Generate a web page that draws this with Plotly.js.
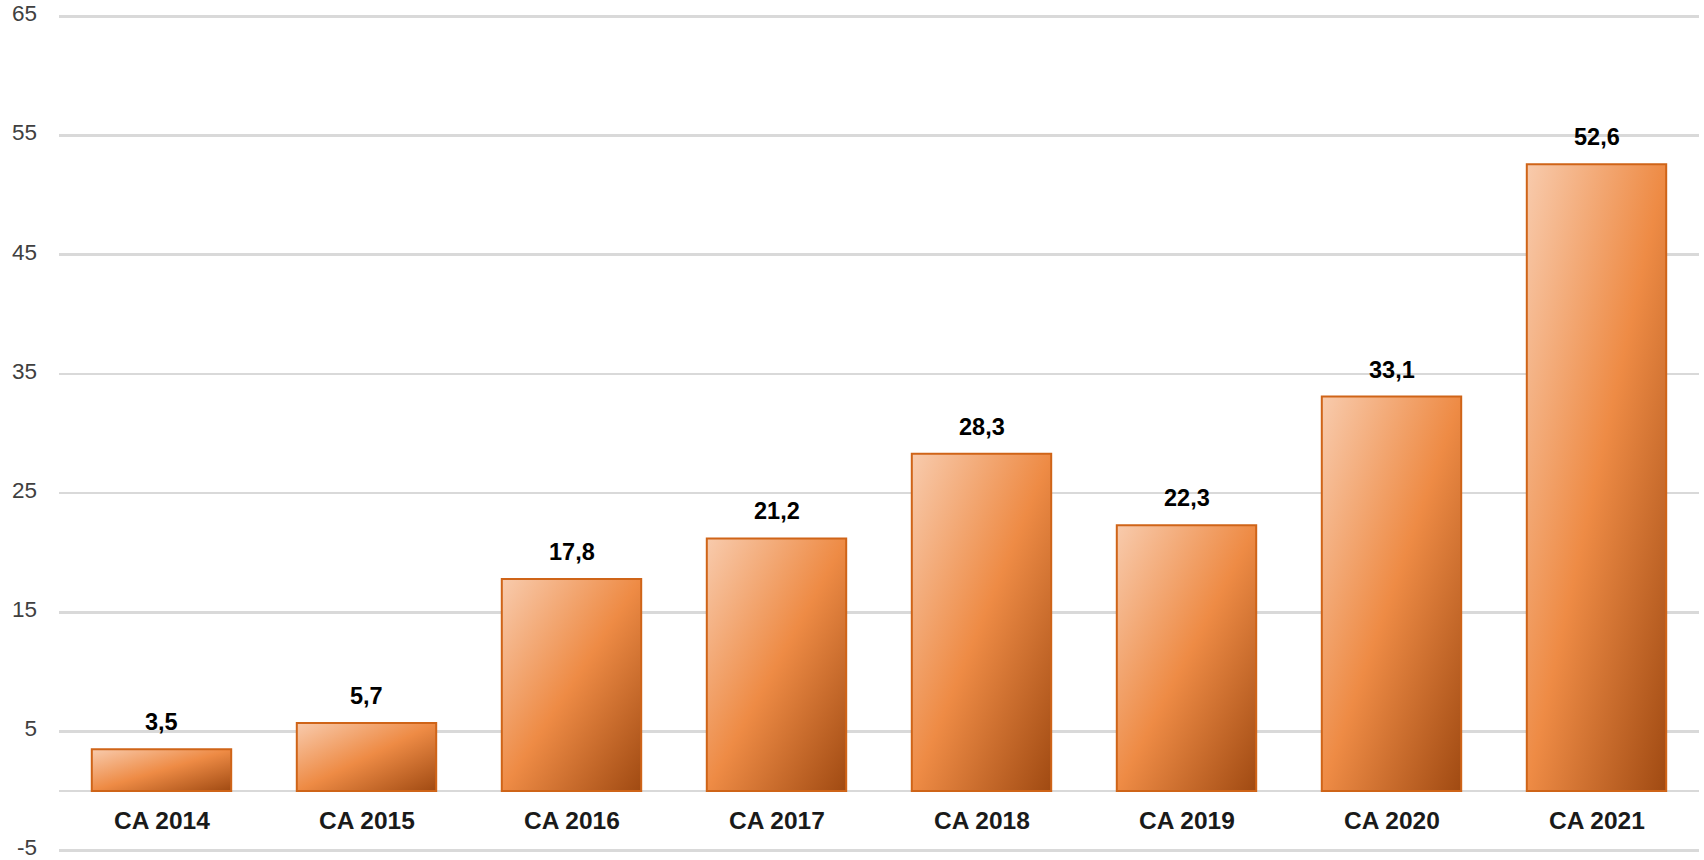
<!DOCTYPE html>
<html>
<head>
<meta charset="utf-8">
<script src="https://cdn.plot.ly/plotly-3.0.1.min.js"></script>
<style>
  html, body { margin: 0; padding: 0; background: #fff; }
  #chart { width: 1704px; height: 860px; }
</style>
</head>
<body>
<div id="chart"></div>
<script>
// chiffre d'affaires par année
const categories = ['CA 2014', 'CA 2015', 'CA 2016', 'CA 2017', 'CA 2018', 'CA 2019', 'CA 2020', 'CA 2021'];
const values = [3.5, 5.7, 17.8, 21.2, 28.3, 22.3, 33.1, 52.6];
const yMin = -5, yMax = 65, yStep = 10;

const fmt = v => v.toFixed(1).replace('.', ',');
const FONT = 'Liberation Sans, Arial, sans-serif';

// tick values with a plain hyphen for the negative one
const tickVals = [];
for (let v = yMin; v <= yMax; v += yStep) tickVals.push(v);
const tickText = tickVals.map(v => String(v));

const bars = {
  type: 'bar',
  x: categories,
  y: values,
  marker: {
    color: '#ed7d31',
    line: {color: '#cf6418', width: 2}
  },
  hoverinfo: 'none'
};

// value labels above each bar
const valueLabels = categories.map((c, i) => ({
  x: c,
  y: values[i],
  xref: 'x',
  yref: 'y',
  text: fmt(values[i]),
  showarrow: false,
  yanchor: 'bottom',
  yshift: 12,
  font: {family: FONT, size: 23.5, color: '#000', weight: 'bold'}
}));

// category labels sit between 0 and the lowest gridline
const catLabels = categories.map(c => ({
  x: c,
  y: yMin / 2,
  xref: 'x',
  yref: 'y',
  text: c,
  showarrow: false,
  yanchor: 'middle',
  font: {family: FONT, size: 24.5, color: '#1a1a1a', weight: 'bold'}
}));

const layout = {
  width: 1704,
  height: 860,
  margin: {l: 59, r: 5, t: 14, b: 7},
  paper_bgcolor: '#fff',
  plot_bgcolor: '#fff',
  showlegend: false,
  bargap: 0.32,
  font: {family: FONT},
  xaxis: {
    showticklabels: false,
    showgrid: false,
    zeroline: false,
    showline: false,
    ticks: '',
    fixedrange: true
  },
  yaxis: {
    // small pad so the outer gridlines are drawn
    range: [yMin - 0.2, yMax + 0.2],
    tickmode: 'array',
    tickvals: tickVals,
    ticktext: tickText,
    showgrid: true,
    gridcolor: '#d9d9d9',
    gridwidth: 2.5,
    zeroline: true,
    zerolinecolor: '#d9d9d9',
    zerolinewidth: 2.5,
    showline: false,
    ticks: '',
    ticklabelstandoff: 21,
    ticklabelshift: -3,
    ticklabeloverflow: 'allow',
    tickfont: {family: FONT, size: 22.5, color: '#404040'},
    fixedrange: true
  },
  annotations: valueLabels.concat(catLabels)
};

Plotly.newPlot('chart', [bars], layout, {displayModeBar: false, staticPlot: true}).then(gd => {
  // diagonal gradient fill, light top-left to dark bottom-right
  const ns = 'http://www.w3.org/2000/svg';
  const svg = gd.querySelector('svg.main-svg');
  let defs = svg.querySelector('defs');
  if (!defs) {
    defs = document.createElementNS(ns, 'defs');
    svg.insertBefore(defs, svg.firstChild);
  }
  const grad = document.createElementNS(ns, 'linearGradient');
  grad.setAttribute('id', 'barGrad');
  grad.setAttribute('x1', '0'); grad.setAttribute('y1', '0');
  grad.setAttribute('x2', '1'); grad.setAttribute('y2', '1');
  [['0', '#f8cbad'], ['0.5', '#ee8b45'], ['1', '#a04a12']].forEach(([o, c]) => {
    const s = document.createElementNS(ns, 'stop');
    s.setAttribute('offset', o);
    s.setAttribute('stop-color', c);
    grad.appendChild(s);
  });
  defs.appendChild(grad);
  gd.querySelectorAll('.barlayer .point path').forEach(p => {
    p.style.fill = 'url(#barGrad)';
  });
});
</script>
</body>
</html>
